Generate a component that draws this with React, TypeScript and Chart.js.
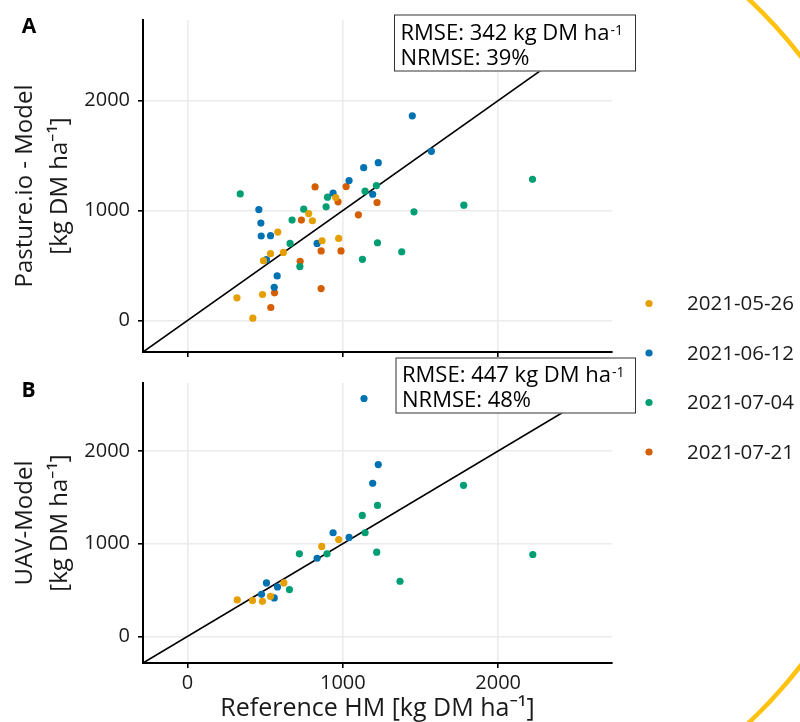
import React, { useEffect, useRef } from 'react';
import { Chart, registerables } from 'chart.js';

Chart.register(...registerables);

// ---------- data ----------
const dateLabels = ['2021-05-26', '2021-06-12', '2021-07-04', '2021-07-21'];
const dateColors = ['#E69F00', '#0072B2', '#009E73', '#D55E00'];

// Panel A: Pasture.io model vs reference herbage mass
const aRef0526 = [318, 420, 483, 489, 534, 581, 617, 780, 804, 866, 954, 973];
const aMod0526 = [206, 21, 236, 544, 607, 804, 619, 972, 907, 725, 1118, 746];
const aRef0612 = [459, 472, 474, 534, 508, 577, 558, 834, 937, 1040, 1134, 1192, 1228, 1447, 1570];
const aMod0612 = [1009, 886, 768, 771, 553, 405, 302, 701, 1158, 1272, 1390, 1148, 1435, 1861, 1538];
const aRef0704 = [339, 660, 673, 723, 748, 892, 901, 1143, 1216, 1126, 1223, 1379, 1458, 1779, 2221];
const aMod0704 = [1151, 701, 913, 490, 1012, 1034, 1121, 1176, 1227, 556, 707, 625, 988, 1049, 1284];
const aRef0721 = [536, 560, 725, 733, 821, 860, 860, 969, 988, 1021, 1100, 1220];
const aMod0721 = [118, 251, 538, 913, 1215, 632, 290, 1079, 632, 1218, 961, 1073];

// Panel B: UAV model vs reference herbage mass
const bRef0526 = [320, 418, 482, 534, 620, 864, 973];
const bMod0526 = [393, 386, 378, 432, 577, 970, 1045];
const bRef0612 = [476, 508, 558, 579, 834, 937, 1040, 1136, 1192, 1228];
const bMod0612 = [454, 577, 415, 534, 843, 1118, 1067, 2566, 1651, 1853];
const bRef0704 = [656, 720, 898, 1125, 1143, 1218, 1223, 1368, 1777, 2223];
const bMod0704 = [505, 891, 891, 1305, 1118, 908, 1413, 595, 1629, 883];
const bRef0721: number[] = [];
const bMod0721: number[] = [];

const rmseA = 342;
const nrmseA = 39;
const rmseB = 447;
const nrmseB = 48;

const axisMin = -287;
const axisMax = 2733;
const tickValues = [0, 1000, 2000];

// ---------- styling ----------
const FONT = '"Open Sans", "Noto Sans", sans-serif';
const TEXT = '#1A1A1A';
const PLOT_LEFT = 143;
const PLOT_RIGHT = 612;

Chart.defaults.font.family = FONT;

const zip = (xs: number[], ys: number[]) => xs.map((x, i) => ({ x, y: ys[i] }));

function pointSets(sets: [number[], number[]][]) {
  return sets
    .map(([xs, ys], i) => ({
      label: dateLabels[i],
      data: zip(xs, ys),
      backgroundColor: dateColors[i],
      borderColor: dateColors[i],
      pointRadius: 3.6,
      pointBorderWidth: 0,
      pointHoverRadius: 3.6,
      order: 1,
    }))
    .filter((d) => d.data.length > 0);
}

function identityLine() {
  return {
    label: 'identity',
    data: [
      { x: axisMin, y: axisMin },
      { x: axisMax, y: axisMax },
    ],
    showLine: true,
    borderColor: '#000',
    borderWidth: 1.6,
    pointRadius: 0,
    order: 10,
  };
}

function makeScales(opts: {
  showXLabels: boolean;
  xTitle: string | null;
  xHeight: number;
  yTitle: string[];
}) {
  return {
    x: {
      type: 'linear' as const,
      min: axisMin,
      max: axisMax,
      afterBuildTicks: (s: any) => {
        s.ticks = tickValues.map((v) => ({ value: v }));
      },
      afterFit: (s: any) => {
        s.height = opts.xHeight;
      },
      grid: {
        color: '#EBEBEB',
        lineWidth: 1.6,
        drawTicks: true,
        tickLength: 5,
        tickColor: '#000',
        tickWidth: 1.6,
      },
      border: { display: true, color: '#000', width: 2 },
      ticks: {
        display: opts.showXLabels,
        color: TEXT,
        font: { family: FONT, size: 20 },
        padding: 3,
        maxRotation: 0,
        autoSkip: false,
        callback: (v: any) => String(v),
      },
      title: {
        display: !!opts.xTitle,
        text: opts.xTitle || '',
        color: TEXT,
        font: { family: FONT, size: 25, lineHeight: '26px' },
        padding: { top: 0, bottom: 0 },
      },
    },
    y: {
      type: 'linear' as const,
      min: axisMin,
      max: axisMax,
      afterBuildTicks: (s: any) => {
        s.ticks = tickValues.map((v) => ({ value: v }));
      },
      afterFit: (s: any) => {
        s.width = PLOT_LEFT;
      },
      grid: {
        color: '#EBEBEB',
        lineWidth: 1.6,
        drawTicks: true,
        tickLength: 5,
        tickColor: '#000',
        tickWidth: 1.6,
      },
      border: { display: true, color: '#000', width: 2 },
      ticks: {
        display: true,
        color: TEXT,
        font: { family: FONT, size: 20 },
        padding: 8,
        autoSkip: false,
        callback: (v: any) => String(v),
      },
      title: {
        display: true,
        text: opts.yTitle,
        color: TEXT,
        font: { family: FONT, size: 24, lineHeight: '35px' },
        padding: { top: 8, bottom: 0 },
      },
    },
  };
}

function drawStatBox(
  ctx: CanvasRenderingContext2D,
  x0: number,
  y0: number,
  x1: number,
  y1: number,
  rmse: number,
  nrmse: number,
  base1: number,
  base2: number
) {
  ctx.fillStyle = '#FFFFFF';
  ctx.fillRect(x0, y0, x1 - x0, y1 - y0);
  ctx.strokeStyle = '#333333';
  ctx.lineWidth = 1;
  ctx.strokeRect(x0 + 0.5, y0 + 0.5, x1 - x0 - 1, y1 - y0 - 1);
  ctx.fillStyle = '#000';
  ctx.textAlign = 'left';
  ctx.textBaseline = 'alphabetic';
  const tx = x0 + 6.5;
  ctx.font = `22px ${FONT}`;
  const t1 = `RMSE: ${rmse} kg DM ha`;
  ctx.fillText(t1, tx, base1);
  const w = ctx.measureText(t1).width;
  ctx.font = `14px ${FONT}`;
  ctx.fillText('-1', tx + w + 1, base1 - 5);
  ctx.font = `22px ${FONT}`;
  ctx.fillText(`NRMSE: ${nrmse}%`, tx, base2);
}

function drawPanelLetter(ctx: CanvasRenderingContext2D, letter: string, x: number, baseline: number) {
  ctx.fillStyle = '#000';
  ctx.font = `bold 21px ${FONT}`;
  ctx.textAlign = 'center';
  ctx.textBaseline = 'alphabetic';
  ctx.fillText(letter, x, baseline);
}

const overlayA = {
  id: 'overlayA',
  afterDraw(chart: any) {
    const ctx: CanvasRenderingContext2D = chart.ctx;
    ctx.save();
    drawPanelLetter(ctx, 'A', 29, 33);
    drawStatBox(ctx, 394, 14.5, 636, 71.5, rmseA, nrmseA, 39.5, 64.5);
    // legend
    const legendY = [303.5, 353, 402.5, 452];
    dateLabels.forEach((lab, i) => {
      ctx.fillStyle = dateColors[i];
      ctx.beginPath();
      ctx.arc(649, legendY[i], 3.6, 0, Math.PI * 2);
      ctx.fill();
      ctx.fillStyle = TEXT;
      ctx.font = `20.5px ${FONT}`;
      ctx.textAlign = 'left';
      ctx.textBaseline = 'middle';
      ctx.fillText(lab, 687, legendY[i] + 1);
    });
    ctx.restore();
  },
};

const overlayB = {
  id: 'overlayB',
  afterDraw(chart: any) {
    const ctx: CanvasRenderingContext2D = chart.ctx;
    ctx.save();
    drawPanelLetter(ctx, 'B', 28.5, 397);
    drawStatBox(ctx, 395.5, 357.5, 636, 413.5, rmseB, nrmseB, 382, 407);
    // decorative arc at the right edge
    ctx.strokeStyle = '#FFC20E';
    ctx.lineWidth = 4.5;
    ctx.beginPath();
    ctx.arc(408, 361, 497, (-50 * Math.PI) / 180, (50 * Math.PI) / 180);
    ctx.stroke();
    ctx.restore();
  },
};

function configA(): any {
  return {
    type: 'scatter',
    data: {
      datasets: [
        ...pointSets([
          [aRef0526, aMod0526],
          [aRef0612, aMod0612],
          [aRef0704, aMod0704],
          [aRef0721, aMod0721],
        ]),
        identityLine(),
      ],
    },
    options: {
      responsive: false,
      animation: false,
      events: [],
      layout: { padding: { left: 0, top: 18, right: 800 - PLOT_RIGHT, bottom: 722 - 352 - 10 } },
      plugins: { legend: { display: false }, tooltip: { enabled: false } },
      scales: makeScales({
        showXLabels: false,
        xTitle: null,
        xHeight: 10,
        yTitle: ['Pasture.io - Model', '[kg DM ha\u207B\u00B9]'],
      }),
    },
    plugins: [overlayA],
  };
}

function configB(): any {
  return {
    type: 'scatter',
    data: {
      datasets: [
        ...pointSets([
          [bRef0526, bMod0526],
          [bRef0612, bMod0612],
          [bRef0704, bMod0704],
          [bRef0721, bMod0721],
        ]),
        identityLine(),
      ],
    },
    options: {
      responsive: false,
      animation: false,
      events: [],
      layout: { padding: { left: 0, top: 383, right: 800 - PLOT_RIGHT, bottom: 0 } },
      plugins: { legend: { display: false }, tooltip: { enabled: false } },
      scales: makeScales({
        showXLabels: true,
        xTitle: 'Reference HM [kg DM ha\u207B\u00B9]',
        xHeight: 722 - 663,
        yTitle: ['UAV-Model', '[kg DM ha\u207B\u00B9]'],
      }),
    },
    plugins: [overlayB],
  };
}

export default function App() {
  const refA = useRef<HTMLCanvasElement>(null);
  const refB = useRef<HTMLCanvasElement>(null);

  useEffect(() => {
    document.body.style.margin = '0';
    const a = new Chart(refA.current as HTMLCanvasElement, configA());
    const b = new Chart(refB.current as HTMLCanvasElement, configB());
    return () => {
      a.destroy();
      b.destroy();
    };
  }, []);

  return (
    <div style={{ position: 'relative', width: 800, height: 722, background: '#fff', overflow: 'hidden' }}>
      <canvas ref={refA} width={800} height={722} style={{ position: 'absolute', left: 0, top: 0 }} />
      <canvas ref={refB} width={800} height={722} style={{ position: 'absolute', left: 0, top: 0 }} />
    </div>
  );
}
